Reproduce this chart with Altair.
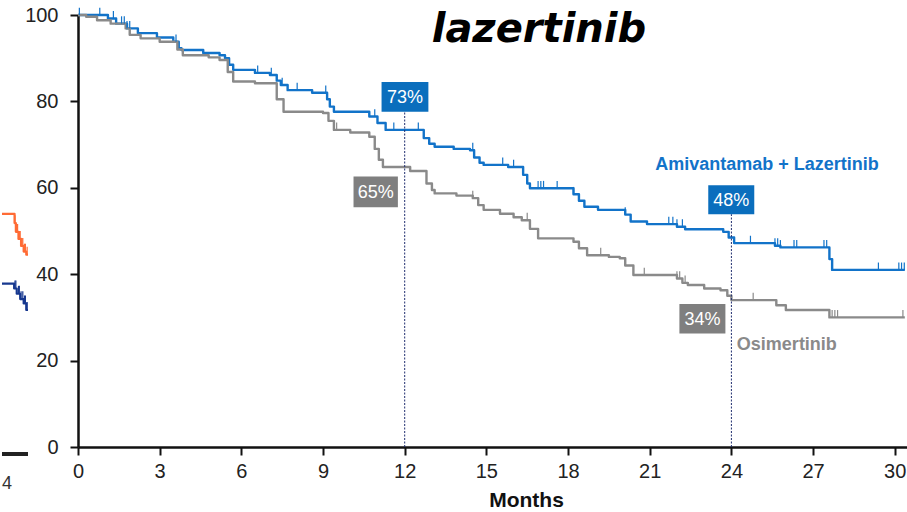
import altair as alt
import pandas as pd

FONT = "Liberation Sans, Arial, Helvetica, sans-serif"

# ---- Kaplan-Meier steps: time (months) and survival (%) ----
ami_t = [0, 1.1, 1.4, 1.8, 2.2, 2.9, 3.5, 3.7, 3.8, 4.6, 5.2, 5.4, 5.55, 5.7,
         6.5, 7.05, 7.3, 7.45, 7.7, 8.6, 9.15, 9.25, 9.4, 10.7, 11.0, 11.3,
         12.7, 12.9, 13.1, 13.8, 14.4, 14.55, 14.75, 14.9, 15.8, 16.35, 16.5,
         16.6, 18.2, 18.4, 18.6, 19.1, 20.1, 20.3, 20.9, 22.0, 22.3, 23.7,
         23.9, 24.1, 25.6, 25.8, 27.6, 27.7, 30.37]
ami_s = [100, 99.2, 98.0, 96.9, 95.8, 94.8, 93.8, 92.3, 91.9, 91.2, 90.7, 90.0,
         88.5, 87.3, 86.6, 86.1, 84.8, 83.8, 82.6, 82.0, 80.5, 78.8, 77.6,
         76.5, 75.0, 73.4, 71.5, 70.2, 69.5, 69.0, 68.7, 67.0, 65.8, 65.3,
         64.8, 63.0, 61.0, 59.9, 58.5, 57.0, 55.6, 54.9, 53.8, 52.2, 51.6,
         51.0, 50.4, 49.8, 48.5, 47.2, 46.6, 46.2, 43.5, 41.0, 41.0]
ami_cens = [0.05, 0.8, 1.3, 1.6, 1.7, 1.8, 1.9, 3.6, 6.6, 7.1, 7.5, 8.05, 9.1,
            10.9, 11.6, 12.5, 14.5, 15.6, 16.0, 16.9, 17.0, 17.1, 17.6, 18.2,
            20.1, 21.7, 21.85, 22.0, 22.2, 24.7, 25.6, 25.7, 25.8, 26.3, 26.4,
            27.4, 27.5, 29.4, 30.15, 30.25, 30.35]

osi_t = [0, 0.3, 0.7, 1.2, 1.75, 1.9, 2.3, 3.0, 3.65, 3.85, 4.8, 5.2, 5.5, 5.7,
         6.5, 7.3, 7.55, 9.0, 9.2, 9.4, 10.0, 10.7, 10.9, 11.05, 11.2, 12.2,
         12.8, 13.0, 13.1, 13.9, 14.5, 14.7, 14.9, 15.5, 16.0, 16.3, 16.6,
         16.9, 18.2, 18.4, 18.7, 19.5, 19.9, 20.1, 20.4, 22.0, 22.2, 22.4,
         23.0, 23.6, 23.85, 24.0, 25.65, 26.0, 27.6, 30.37]
osi_s = [100, 99.6, 98.8, 98.0, 96.9, 95.4, 94.6, 93.8, 92.0, 90.7, 90.2, 89.6,
         86.8, 84.6, 84.2, 80.5, 77.6, 77.3, 75.5, 73.4, 72.8, 71.8, 69.0,
         66.5, 64.8, 63.9, 61.0, 59.5, 58.7, 58.2, 57.6, 56.0, 54.9, 54.0,
         53.2, 52.5, 50.5, 48.3, 47.5, 46.0, 44.4, 44.0, 43.7, 42.0, 39.8,
         39.0, 38.0, 37.5, 36.7, 36.3, 35.0, 34.0, 32.8, 31.7, 30.0, 30.0]
osi_cens = [9.4, 9.5, 14.5, 16.5, 19.2, 20.1, 20.8, 22.0, 22.1, 22.3, 24.8,
            27.7, 27.8, 27.9, 30.3]

# Landmark estimates
landmark_month = [12, 24]
ami_landmark = [73, 48]
osi_landmark = [65, 34]

# ---- tail of the neighbouring panel (its own months / % scale) ----
nb_orange_t = [30.0, 31.45, 31.6, 31.9, 32.2, 32.5, 32.8, 33.0]
nb_orange_s = [54.7, 52.6, 50.6, 49.0, 47.4, 46.1, 45.4, 45.4]
nb_orange_cens = [31.5, 31.7, 31.8, 32.0, 32.1, 32.3, 32.4, 32.6, 32.7, 32.9]
nb_navy_t = [30.0, 31.4, 31.7, 32.1, 32.5, 32.8, 33.0]
nb_navy_s = [38.8, 37.7, 36.5, 35.3, 34.3, 32.8, 32.8]
nb_navy_cens = [31.5, 31.6, 31.9, 32.0, 32.2, 32.4, 32.6, 32.7, 32.9]

BLUE = "#1273c9"
BLUE_BOX = "#0a6ebd"
GRAY = "#8a8a8a"
GRAY_BOX = "#7f7f7f"
ORANGE = "#ff6b35"
NAVY = "#17388f"


def step_at(ts, ss, t):
    v = ss[0]
    for ti, si in zip(ts, ss):
        if ti <= t:
            v = si
    return v


def curve_frame(name, ts, ss):
    return pd.DataFrame({"arm": name, "month": ts, "surv": ss})


def censor_frame(name, ts, ss, cens, tick):
    ys = [step_at(ts, ss, c) for c in cens]
    return pd.DataFrame({"arm": name, "month": cens, "surv": ys,
                         "top": [y + tick for y in ys]})


ARMS = ["Amivantamab + Lazertinib", "Osimertinib"]
curves = pd.concat([curve_frame(ARMS[0], ami_t, ami_s),
                    curve_frame(ARMS[1], osi_t, osi_s)])
censors = pd.concat([censor_frame(ARMS[0], ami_t, ami_s, ami_cens, 1.7),
                     censor_frame(ARMS[1], osi_t, osi_s, osi_cens, 1.7)])

xs = alt.Scale(domain=[0, 30.45], nice=False, zero=False)
ys = alt.Scale(domain=[0, 100], nice=False)
arm_color = alt.Scale(domain=ARMS, range=[BLUE, GRAY])

x_axis = alt.Axis(values=list(range(0, 31, 3)), title="Months", labelFontSize=20,
                  labelFont=FONT, labelColor="#222", tickSize=8, tickWidth=2,
                  tickColor="#111", domainColor="#111", domainWidth=2.5,
                  labelPadding=6, labelFlush=False, grid=False, titleFont=FONT,
                  titleFontSize=21, titleFontWeight="bold", titleColor="#111",
                  titleX=448, titleY=53, titleBaseline="middle")
y_axis = alt.Axis(values=[0, 20, 40, 60, 80, 100], title=None, labelFontSize=20,
                  labelFont=FONT, labelColor="#222", tickSize=8, tickWidth=2,
                  tickColor="#111", domainColor="#111", domainWidth=2.5,
                  labelPadding=12, grid=False)

lines = alt.Chart(curves).mark_line(interpolate="step-after", strokeWidth=2.4,
                                    strokeJoin="round").encode(
    x=alt.X("month:Q", scale=xs, axis=x_axis),
    y=alt.Y("surv:Q", scale=ys, axis=y_axis),
    color=alt.Color("arm:N", scale=arm_color, legend=None),
    detail="arm:N",
)

ticks = alt.Chart(censors).mark_rule(strokeWidth=1.2).encode(
    x=alt.X("month:Q"),
    y=alt.Y("surv:Q"),
    y2="top:Q",
    color=alt.Color("arm:N", scale=arm_color, legend=None),
)

# Dotted landmark lines up to the bottom of the blue boxes
landmarks = pd.DataFrame({"month": landmark_month, "top": [77.6, 53.9],
                          "surv": [0, 0]})
guide = alt.Chart(landmarks).mark_rule(strokeDash=[2, 1.5], strokeWidth=1,
                                       color="#1f2d6e").encode(
    x=alt.X("month:Q"),
    y=alt.Y("surv:Q"),
    y2="top:Q",
)

# Percentage boxes: label, box extent in months and %
boxes = pd.DataFrame({
    "label": [f"{ami_landmark[0]}%", f"{osi_landmark[0]}%",
              f"{ami_landmark[1]}%", f"{osi_landmark[1]}%"],
    "fill": [BLUE_BOX, GRAY_BOX, BLUE_BOX, GRAY_BOX],
    "month": [11.15, 10.12, 23.15, 22.09],
    "x1": [12.87, 11.75, 24.84, 23.78],
    "surv": [77.6, 55.5, 53.9, 26.3],
    "y1": [84.5, 62.6, 60.6, 33.1],
})

rects = alt.Chart(boxes).mark_rect().encode(
    x=alt.X("month:Q"), x2="x1:Q",
    y=alt.Y("surv:Q"), y2="y1:Q",
    color=alt.Color("fill:N", scale=None, legend=None),
)
rect_text = alt.Chart(boxes).transform_calculate(
    xc="(datum.month + datum.x1) / 2", yc="(datum.surv + datum.y1) / 2"
).mark_text(color="white", font=FONT, fontSize=18, baseline="middle", dy=1).encode(
    x=alt.X("xc:Q"),
    y=alt.Y("yc:Q"),
    text="label:N",
)

arm_labels = pd.DataFrame({"text": ARMS, "month": [21.2, 24.2], "surv": [65.3, 23.6],
                           "col": [BLUE, GRAY]})
arm_text = alt.Chart(arm_labels).mark_text(
    font=FONT, fontSize=18, fontWeight="bold", align="left", baseline="middle").encode(
    x=alt.X("month:Q"),
    y=alt.Y("surv:Q"),
    text="text:N",
    color=alt.Color("col:N", scale=None, legend=None),
)

heading = alt.Chart(pd.DataFrame({"t": ["lazertinib"], "month": [16.93],
                                  "surv": [93.75]})).mark_text(
    font="DejaVu Sans", fontSize=40, fontWeight="bold", fontStyle="italic",
    color="#000", baseline="alphabetic").encode(
    x=alt.X("month:Q"),
    y=alt.Y("surv:Q"),
    text="t:N",
)

main = alt.layer(lines, guide, ticks, rects, rect_text, arm_text, heading)

# ---- neighbouring panel tail, placed left of the y-axis labels ----
nb_curves = pd.concat([curve_frame("a", nb_orange_t, nb_orange_s),
                       curve_frame("b", nb_navy_t, nb_navy_s)])
nb_censors = pd.concat([censor_frame("a", nb_orange_t, nb_orange_s, nb_orange_cens, 1.8),
                        censor_frame("b", nb_navy_t, nb_navy_s, nb_navy_cens, 1.8)])
nxs = alt.Scale(domain=[30, 33], range=[-76, -50], nice=False, zero=False)
nys = alt.Scale(domain=[0, 100], range=[439, 0], nice=False, zero=False)
nb_color = alt.Scale(domain=["a", "b"], range=[ORANGE, NAVY])

nb_lines = alt.Chart(nb_curves).mark_line(interpolate="step-after", strokeWidth=2.2,
                                          strokeJoin="round").encode(
    x=alt.X("month:Q", scale=nxs, axis=None),
    y=alt.Y("surv:Q", scale=nys, axis=None),
    color=alt.Color("arm:N", scale=nb_color, legend=None),
    detail="arm:N",
)
nb_ticks = alt.Chart(nb_censors).mark_rule(strokeWidth=1.2).encode(
    x=alt.X("month:Q"),
    y=alt.Y("surv:Q"),
    y2="top:Q",
    color=alt.Color("arm:N", scale=nb_color, legend=None),
)
# x-axis line of the neighbouring panel
nb_axis = alt.Chart(pd.DataFrame({"month": [30.0], "x1": [33.0], "surv": [0.45],
                                  "y1": [-0.45]})).mark_rect(color="#222").encode(
    x=alt.X("month:Q"), x2="x1:Q", y=alt.Y("surv:Q"), y2="y1:Q",
)
nb_label = alt.Chart(pd.DataFrame({"t": ["4"], "month": [30.0], "surv": [-6.8]})).mark_text(
    font=FONT, fontSize=18, color="#333", align="left", baseline="middle").encode(
    x=alt.X("month:Q"),
    y=alt.Y("surv:Q"),
    text="t:N",
)
neighbour = alt.layer(nb_lines, nb_ticks, nb_axis, nb_label)

chart = alt.layer(main, neighbour).resolve_scale(
    x="independent", y="independent", color="independent"
).properties(
    width=907, height=512,
    autosize=alt.AutoSizeParams(type="fit", contains="padding"),
    padding={"left": 0, "top": 5, "right": 0, "bottom": 2},
    background="white",
).configure_view(stroke=None)

chart.save("out.html", embed_options={"renderer": "svg", "actions": False})
